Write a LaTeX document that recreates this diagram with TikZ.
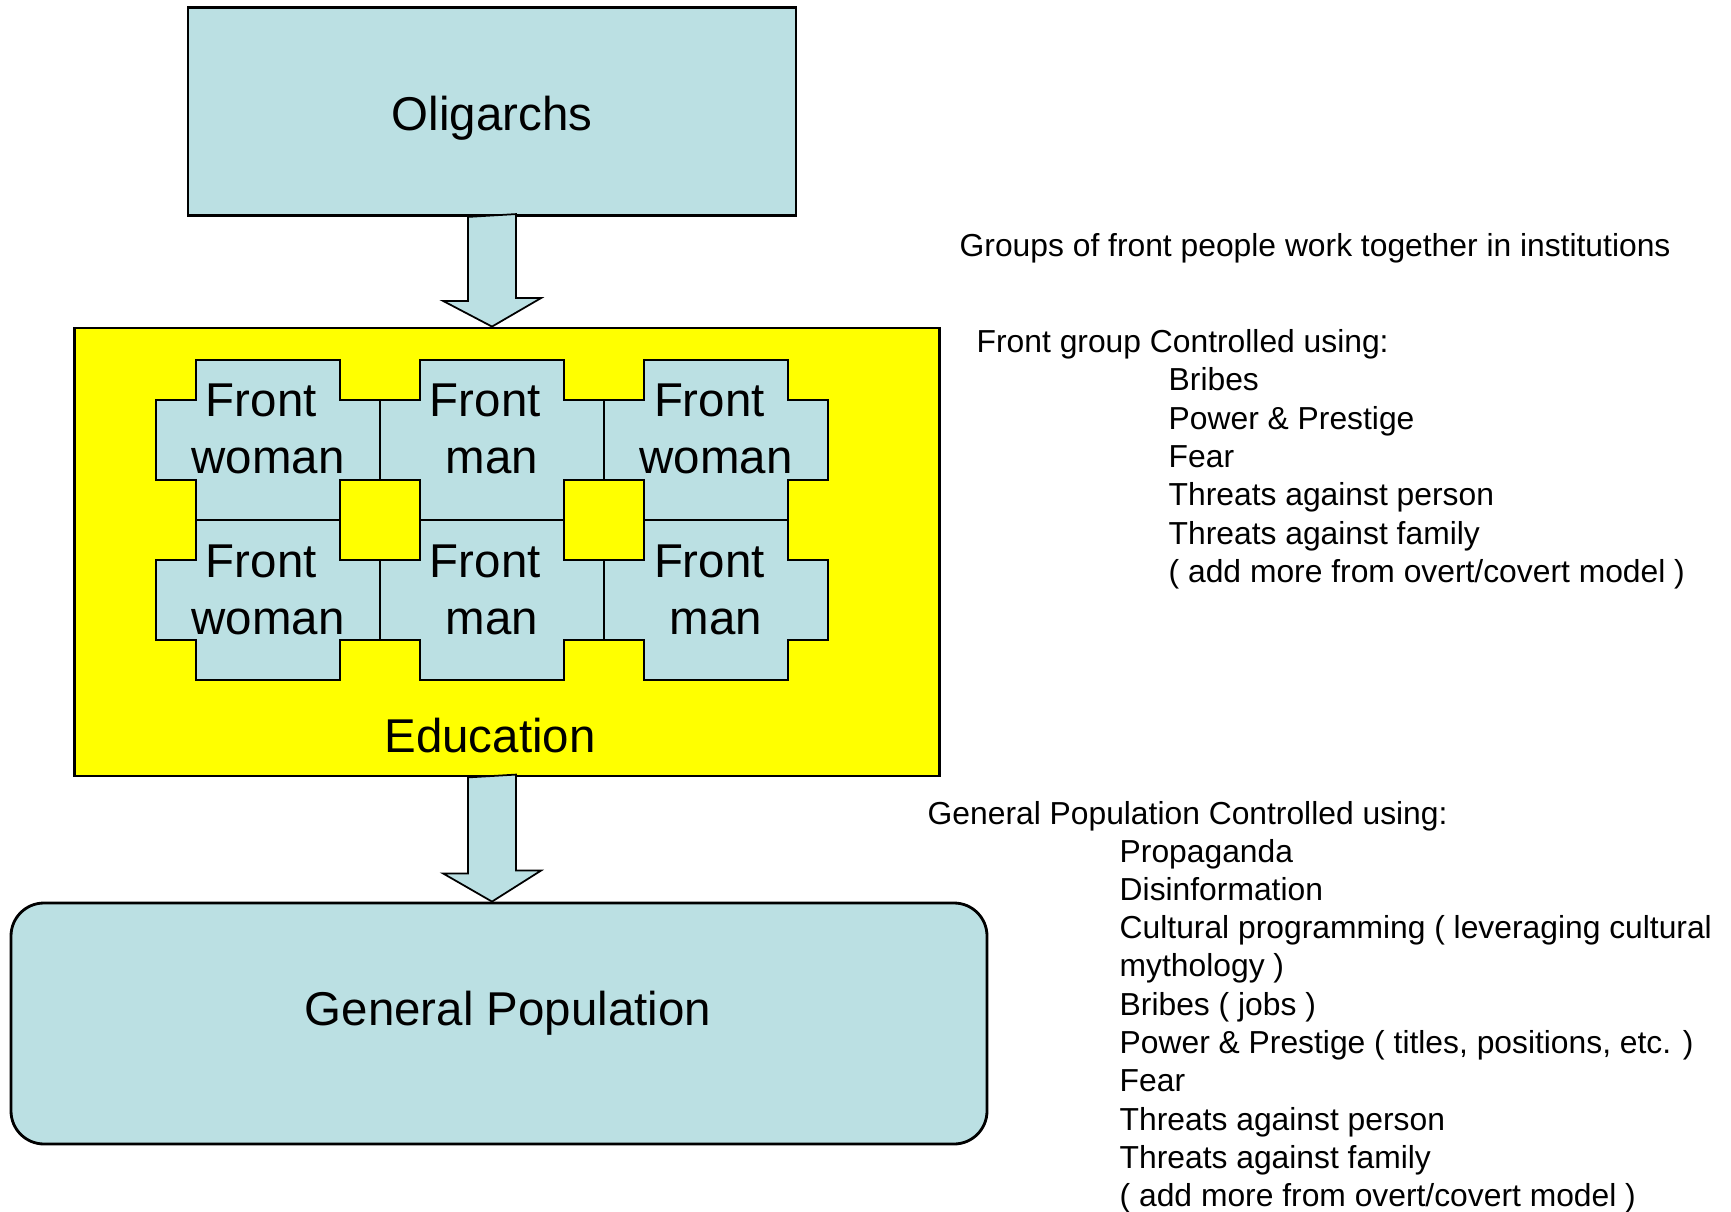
\documentclass[tikz,border=0pt]{standalone}
\usepackage{fontspec}
\setmainfont{Liberation Sans}
\usetikzlibrary{calc}
\definecolor{paleblue}{RGB}{187,224,227}
\definecolor{eduyellow}{RGB}{255,255,0}
\tikzset{
  box/.style={draw, line width=0.8pt, fill=paleblue, inner sep=0pt},
  bigtext/.style={font=\fontsize{13.5}{16.2}\selectfont, inner sep=0pt},
  note/.style={font=\fontsize{9.05}{11}\selectfont, anchor=base west, inner sep=0pt},
  piece/.style={draw, line width=0.7pt, fill=paleblue, line join=miter},
  blockarrow/.style={draw, line width=0.5pt, fill=paleblue, line join=miter},
}
\begin{document}
\begin{tikzpicture}[x=0.1mm, y=-0.1mm, line cap=round]
\useasboundingbox (0,0) rectangle (1731,1212);
% main column
\node[box, minimum width=60.8mm, minimum height=20.8mm] (olig) at (492,111.5) {};
\node[bigtext] (oligtext) at (492,118.5) {Oligarchs};
\node[draw, line width=0.8pt, fill=eduyellow, minimum width=86.45mm, minimum height=44.8mm] (edu) at (507,552) {};
\node[bigtext] (edulabel) at (490,736) {Education};
\node[box, rounded corners=3.3mm, minimum width=97.6mm, minimum height=24.1mm] (genpop) at (499,1023.5) {};
\node[bigtext] (genpoptext) at (508,1013.5) {General Population};
% puzzle of front people
\foreach \c/\r/\w in {0/0/woman, 1/0/man, 2/0/woman, 0/1/woman, 1/1/man, 2/1/man}{
  \begin{scope}[shift={({156+224*\c},{360+160*\r})}]
    \draw[piece] (40,0) -- (184,0) -- (184,40) -- (224,40) -- (224,120) -- (184,120)
      -- (184,160) -- (40,160) -- (40,120) -- (0,120) -- (0,40) -- (40,40) -- cycle;
    \node[bigtext, anchor=base] (front\c\r) at (112,57) {Front\kern.28em};
    \node[bigtext, anchor=base] (word\c\r) at (112,114) {\w};
  \end{scope}
}
% block arrows
\draw[blockarrow] ($(olig.south)+(-24,0)$) -- ++(0,84) -- ++(-25,0) -- (olig.south |- edu.north)
  -- ++(49,-28.5) -- ++(-25,0) -- ++(0,-84) -- cycle;
\draw[blockarrow] ($(olig.south |- edu.south)+(-24,0)$) -- ++(0,96) -- ++(-25,0) -- (olig.south |- genpop.north)
  -- ++(49,-31) -- ++(-25,0) -- ++(0,-96) -- cycle;
% notes on the right
\node[note] (groups) at (959,257) {Groups of front people work together in institutions};
\node[note] (frontctl) at (976,353) {Front group Controlled using:};
\foreach \t [count=\i from 0] in {Bribes, Power \& Prestige, Fear, Threats against person,
    Threats against family, {( add more from overt/covert model )}}
  \node[note] (fc\i) at ({1168},{391+38.3*\i}) {\t};
\node[note] (genctl) at (927,824) {General Population Controlled using:};
\foreach \t [count=\i from 0] in {Propaganda, Disinformation, {Cultural programming ( leveraging cultural},
    {mythology )}, {Bribes ( jobs )}, {Power \& Prestige ( titles, positions, etc. )}, Fear,
    Threats against person, Threats against family, {( add more from overt/covert model )}}
  \node[note] (gc\i) at ({1119},{862+38.3*\i}) {\t};
\end{tikzpicture}
\end{document}
